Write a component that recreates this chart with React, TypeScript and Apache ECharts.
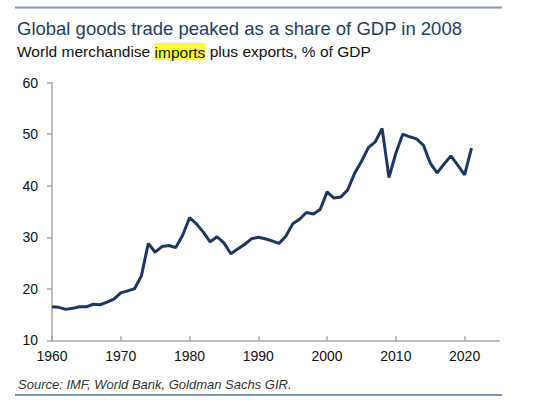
import React, { useEffect, useRef } from "react";
import * as echarts from "echarts";

const years: number[] = [
  1960, 1961, 1962, 1963, 1964, 1965, 1966, 1967, 1968, 1969,
  1970, 1971, 1972, 1973, 1974, 1975, 1976, 1977, 1978, 1979,
  1980, 1981, 1982, 1983, 1984, 1985, 1986, 1987, 1988, 1989,
  1990, 1991, 1992, 1993, 1994, 1995, 1996, 1997, 1998, 1999,
  2000, 2001, 2002, 2003, 2004, 2005, 2006, 2007, 2008, 2009,
  2010, 2011, 2012, 2013, 2014, 2015, 2016, 2017, 2018, 2019,
  2020, 2021,
];

const tradeShare: number[] = [
  16.5, 16.4, 16.0, 16.2, 16.5, 16.5, 17.0, 16.9, 17.4, 18.0,
  19.2, 19.6, 20.0, 22.5, 28.8, 27.1, 28.2, 28.4, 28.0, 30.4,
  33.8, 32.6, 31.0, 29.1, 30.1, 28.9, 26.8, 27.7, 28.6, 29.7,
  30.0, 29.7, 29.3, 28.8, 30.2, 32.6, 33.5, 34.8, 34.5, 35.4,
  38.8, 37.6, 37.8, 39.2, 42.4, 44.7, 47.4, 48.5, 51.1, 41.6,
  46.3, 50.0, 49.5, 49.1, 47.9, 44.4, 42.5, 44.2, 45.8, 44.0,
  42.1, 47.3,
];

const xTickLabels: number[] = [1960, 1970, 1980, 1990, 2000, 2010, 2020];
const yTickLabels: number[] = [10, 20, 30, 40, 50, 60];

const FONT = "'Liberation Sans', Arial, sans-serif";

export default function App() {
  const ref = useRef<HTMLDivElement>(null);

  useEffect(() => {
    if (!ref.current) return;
    const chart = echarts.init(ref.current, undefined, { renderer: "svg" });
    chart.setOption({
      animation: false,
      backgroundColor: "#ffffff",
      textStyle: { fontFamily: FONT },
      title: [
        {
          text: "Global goods trade peaked as a share of GDP in 2008",
          left: 12,
          top: 14,
          textStyle: {
            fontFamily: FONT,
            fontSize: 18.5,
            fontWeight: "normal",
            color: "#253d63",
          },
        },
        {
          text: "{a|World merchandise }{h|imports}{a| plus exports, % of GDP}",
          left: 12,
          top: 38,
          textStyle: {
            fontWeight: "normal",
            rich: {
              a: { fontFamily: FONT, fontSize: 15.5, fontWeight: "normal", color: "#111111" },
              h: {
                fontFamily: FONT,
                fontSize: 15.5,
                fontWeight: "normal",
                color: "#111111",
                backgroundColor: "#ffff3c",
                padding: [1, 0, 0, 0],
              },
            },
          },
        },
        {
          text: "Source: IMF, World Bank, Goldman Sachs GIR.",
          left: 13,
          top: 373,
          textStyle: {
            fontFamily: FONT,
            fontSize: 13,
            fontStyle: "italic",
            fontWeight: "normal",
            color: "#333333",
          },
        },
      ],
      graphic: [
        {
          type: "line",
          shape: { x1: 15, y1: 7.5, x2: 502, y2: 7.5 },
          style: { stroke: "#8197b6", lineWidth: 2 },
        },
        {
          type: "line",
          shape: { x1: 15, y1: 395, x2: 502, y2: 395 },
          style: { stroke: "#8197b6", lineWidth: 2 },
        },
      ],
      grid: { left: 52, right: 37, top: 82.7, bottom: 69.7, containLabel: false },
      xAxis: {
        type: "value",
        min: 1960,
        max: 2025,
        interval: 10,
        axisLine: { show: true, lineStyle: { color: "#a6a6a6", width: 1.5 } },
        axisTick: {
          show: true,
          inside: true,
          length: 4,
          lineStyle: { color: "#a6a6a6", width: 1.5 },
          customValues: xTickLabels,
        },
        axisLabel: {
          fontFamily: FONT,
          fontSize: 14,
          color: "#111111",
          margin: 9,
          customValues: xTickLabels,
          formatter: (v: number) => String(v),
        },
        splitLine: { show: false },
      },
      yAxis: {
        type: "value",
        min: 10,
        max: 60,
        interval: 10,
        axisLine: { show: true, lineStyle: { color: "#a6a6a6", width: 1.5 } },
        axisTick: {
          show: true,
          inside: false,
          length: 5,
          lineStyle: { color: "#a6a6a6", width: 1.5 },
          customValues: yTickLabels,
        },
        axisLabel: {
          fontFamily: FONT,
          fontSize: 14,
          color: "#111111",
          margin: 14,
          customValues: yTickLabels,
        },
        splitLine: { show: false },
      },
      series: [
        {
          type: "line",
          data: years.map((y, i) => [y, tradeShare[i]]),
          showSymbol: false,
          symbol: "none",
          lineStyle: { color: "#1d3860", width: 3 },
          itemStyle: { color: "#1d3860" },
          z: 3,
        },
      ],
    });
    return () => chart.dispose();
  }, []);

  return (
    <div
      ref={ref}
      style={{ position: "fixed", left: 0, top: 0, width: 536, height: 410 }}
    />
  );
}
